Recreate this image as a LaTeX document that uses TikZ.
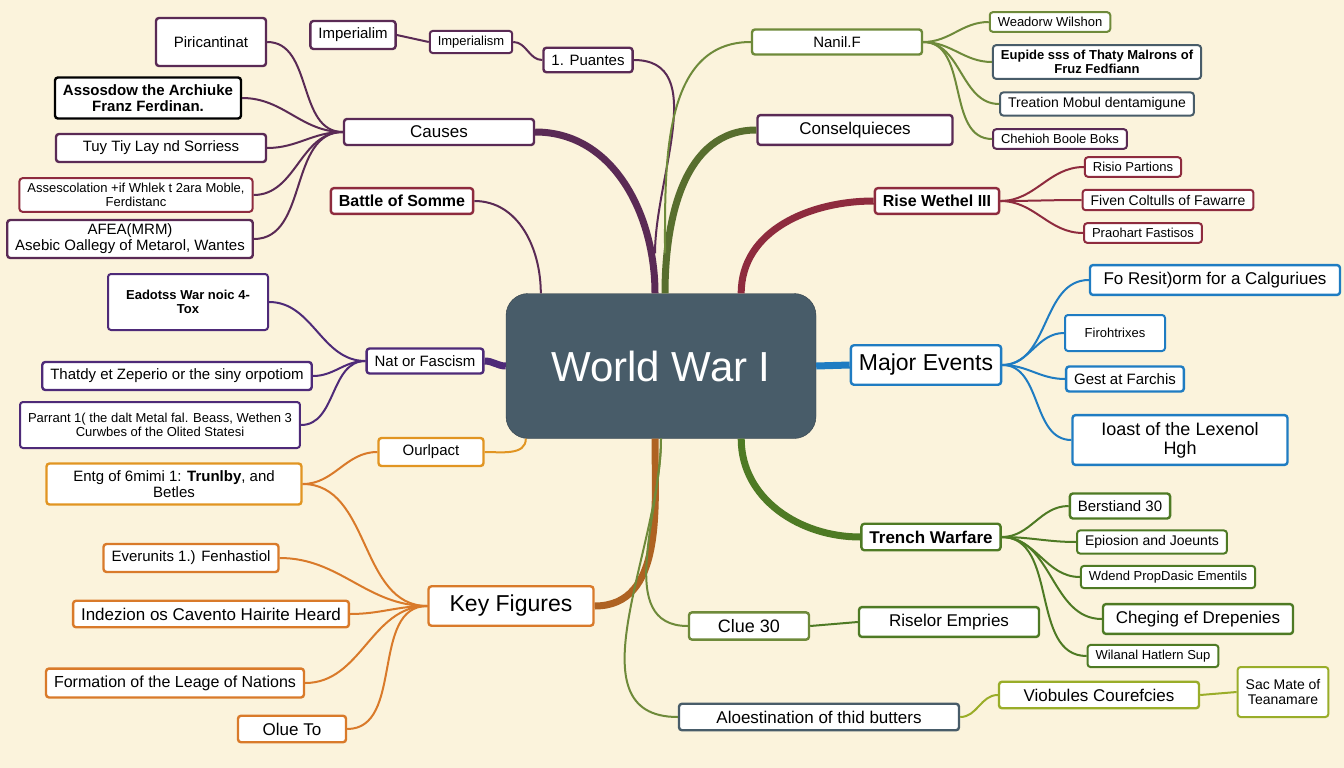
\documentclass[tikz,border=0pt]{standalone}
\usepackage{fontspec}
\setmainfont{Liberation Sans}
\usetikzlibrary{positioning}
\definecolor{bgc}{HTML}{FBF3DC}
\definecolor{plum}{HTML}{5A2A55}
\definecolor{purp}{HTML}{4E2A78}
\definecolor{oran}{HTML}{D97A2A}
\definecolor{oliv}{HTML}{6E8A3A}
\definecolor{marn}{HTML}{8E2B3E}
\definecolor{blu}{HTML}{1F7CC2}
\definecolor{grn}{HTML}{4E7A24}
\definecolor{slat}{HTML}{485C69}
\tikzset{
  box/.style={draw, fill=white, rounded corners=3pt, line width=2.4pt, inner xsep=8pt, inner ysep=7pt,
    align=center, font=\fontsize{15}{16}\selectfont},
  big/.style={box, font=\fontsize{23}{25}\selectfont, inner ysep=9pt},
  small/.style={box, font=\fontsize{13}{14}\selectfont, line width=2pt, inner ysep=5pt},
  link/.style={line width=2pt},
  trunk/.style={line width=7pt}
}
\begin{document}
\begin{tikzpicture}[x=1pt,y=-1pt]
\fill[bgc] (0,0) rectangle (1344,768);
\useasboundingbox (0,0) rectangle (1344,768);
% centre
\node[fill=slat, draw=slat!70!black, rounded corners=22pt, minimum width=310pt, minimum height=145pt,
  text=white, font=\fontsize{42}{44}\selectfont] (ww) at (661,366) {World War I};
% left top branch
\node[box, draw=plum, minimum width=110pt, minimum height=48pt] (pir) at (211,42) {Piricantinat};
\node[box, draw=plum] (imp) at (353,35) {Imperialim};
\node[small, draw=plum] (imps) at (471,42) {Imperialism};
\node[box, draw=plum] (pua) at (588,60) {1. Puantes};
\node[box, draw=black, font=\bfseries\fontsize{15}{16}\selectfont] (ass) at (148,98) {Assosdow the Archiuke\\Franz Ferdinan.};
\node[box, draw=plum, minimum width=210pt] (tuy) at (161,148) {Tuy Tiy Lay nd Sorriess};
\node[box, draw=plum, minimum width=190pt, font=\fontsize{17}{18}\selectfont] (cau) at (439,132) {Causes};
\node[small, draw=marn] (ase) at (136,195) {Assescolation +if Whlek t 2ara Moble,\\Ferdistanc};
\node[box, draw=marn, font=\bfseries\fontsize{16}{17}\selectfont] (som) at (402,201) {Battle of Somme};
\node[box, draw=plum, inner ysep=4pt] (afe) at (130,239) {AFEA(MRM)\\Asebic Oallegy of Metarol, Wantes};
\node[small, draw=purp, font=\bfseries\fontsize{13}{14}\selectfont, minimum width=160pt, minimum height=56pt] (ead) at (188,302) {Eadotss War noic 4-\\Tox};
\node[box, draw=purp] (nat) at (425,361) {Nat or Fascism};
\node[box, draw=purp] (tha) at (177,376) {Thatdy et Zeperio or the siny orpotiom};
\node[small, draw=purp, minimum height=46pt] (par) at (160,425) {Parrant 1( the dalt Metal fal. Beass, Wethen 3\\Curwbes of the Olited Statesi};
% left bottom branch
\node[box, draw=oran!80!yellow, minimum width=105pt] (our) at (431,452) {Ourlpact};
\node[box, draw=oran!80!yellow, minimum width=255pt] (ent) at (174,484) {Entg of 6mimi 1: \textbf{Trunlby}, and\\Betles};
\node[box, draw=oran] (eve) at (191,558) {Everunits 1.) Fenhastiol};
\node[box, draw=oran, font=\fontsize{17}{18}\selectfont] (ind) at (211,614) {Indezion os Cavento Hairite Heard};
\node[big, draw=oran, minimum width=165pt] (key) at (511,606) {Key Figures};
\node[box, draw=oran, font=\fontsize{16}{17}\selectfont] (for) at (175,683) {Formation of the Leage of Nations};
\node[box, draw=oran, minimum width=108pt, font=\fontsize{17}{18}\selectfont] (olu) at (292,729) {Olue To};
% right top branch
\node[box, draw=oliv, minimum width=170pt] (nan) at (837,42) {Nanil.F};
\node[small, draw=oliv] (wea) at (1050,22) {Weadorw Wilshon};
\node[small, draw=slat, font=\bfseries\fontsize{13}{14}\selectfont] (eup) at (1097,62) {Eupide sss of Thaty Malrons of\\Fruz Fedfiann};
\node[small, draw=slat, font=\fontsize{14}{15}\selectfont] (tre) at (1097,104) {Treation Mobul dentamigune};
\node[small, draw=plum] (che) at (1060,139) {Chehioh Boole Boks};
\node[box, draw=plum, minimum width=195pt, font=\fontsize{17}{18}\selectfont] (con) at (855,130) {Conselquieces};
\node[box, draw=marn, font=\bfseries\fontsize{16}{17}\selectfont] (ris) at (937,201) {Rise Wethel III};
\node[small, draw=marn] (rpa) at (1133,167) {Risio Partions};
\node[small, draw=marn, font=\fontsize{14}{15}\selectfont] (fiv) at (1168,200) {Fiven Coltulls of Fawarre};
\node[small, draw=marn] (pra) at (1143,233) {Praohart Fastisos};
% right middle
\node[big, draw=blu] (maj) at (926,365) {Major Events};
\node[box, draw=blu, minimum width=250pt, font=\fontsize{17}{18}\selectfont] (fo) at (1215,280) {Fo Resit)orm for a Calguriues};
\node[small, draw=blu, minimum width=100pt, minimum height=36pt] (fir) at (1115,333) {Firohtrixes};
\node[box, draw=blu] (ges) at (1125,379) {Gest at Farchis};
\node[box, draw=blu, minimum width=215pt, font=\fontsize{18}{19}\selectfont] (ioa) at (1180,440) {Ioast of the Lexenol\\Hgh};
% right bottom
\node[box, draw=grn, font=\bfseries\fontsize{17}{18}\selectfont] (tren) at (931,537) {Trench Warfare};
\node[box, draw=grn] (ber) at (1120,506) {Berstiand 30};
\node[small, draw=grn, font=\fontsize{14}{15}\selectfont] (epi) at (1152,542) {Epiosion and Joeunts};
\node[small, draw=grn] (wde) at (1168,577) {Wdend PropDasic Ementils};
\node[box, draw=grn, font=\fontsize{17}{18}\selectfont, minimum width=190pt] (cheg) at (1198,619) {Cheging ef Drepenies};
\node[small, draw=grn] (wil) at (1153,656) {Wilanal Hatlern Sup};
\node[box, draw=oliv, minimum width=120pt, font=\fontsize{18}{19}\selectfont] (clu) at (749,626) {Clue 30};
\node[box, draw=grn, minimum width=180pt, font=\fontsize{17}{18}\selectfont] (rise) at (949,622) {Riselor Empries};
\node[box, draw=slat, minimum width=280pt, font=\fontsize{17}{18}\selectfont] (alo) at (819,717) {Aloestination of thid butters};
\node[box, draw=oliv!70!yellow, minimum width=200pt, font=\fontsize{17}{18}\selectfont] (vio) at (1099,695) {Viobules Courefcies};
\node[small, draw=oliv!70!yellow, font=\fontsize{14}{15}\selectfont, minimum height=50pt] (sac) at (1283,692) {Sac Mate of\\Teanamare};
% trunks
\draw[trunk, plum] (ww.north) ++(-6,0) to[out=90,in=0] (cau.east);
\draw[link, plum] (ww.north) ++(-6,-40) to[out=90,in=0] (pua.east);
\draw[trunk, oliv!80!black] (ww.north) ++(4,0) to[out=90,in=180] (con.west);
\draw[link, oliv] (ww.north) ++(4,-40) to[out=90,in=180] (nan.west);
\draw[link, plum] (ww.north west) ++(35,0) to[out=90,in=0] (som.east);
\draw[trunk, marn] (ww.north east) ++(-75,0) to[out=90,in=180] (ris.west);
\draw[trunk, blu] (ww.east) -- (maj.west);
\draw[trunk, grn] (ww.south east) ++(-75,0) to[out=-90,in=180] (tren.west);
\draw[trunk, oran!80!black] (ww.south) ++(-6,0) to[out=-90,in=0] (key.east);
\draw[link, oran!80!yellow] (ww.south west) ++(20,0) to[out=-90,in=0] (our.east);
\draw[trunk, purp] (ww.west) to[out=180,in=0] (nat.east);
\draw[link, oliv] (ww.south) to[out=-90,in=180] (clu.west);
\draw[link, oliv] (ww.south) to[out=-90,in=180] (alo.west);
% twigs
\foreach \n in {pir,ass,tuy,ase,afe} \draw[link, plum] (cau.west) to[out=180,in=0] (\n.east);
\draw[link, plum] (imp.east) -- (imps.west);
\draw[link, plum] (imps.east) to[out=0,in=180] (pua.west);
\foreach \n in {ead,tha,par} \draw[link, purp] (nat.west) to[out=180,in=0] (\n.east);
\draw[link, oran] (our.west) to[out=180,in=0] (ent.east);
\foreach \n in {ent,eve,ind,for,olu} \draw[link, oran] (key.west) to[out=180,in=0] (\n.east);
\foreach \n in {wea,eup,tre,che} \draw[link, oliv] (nan.east) to[out=0,in=180] (\n.west);
\foreach \n in {rpa,fiv,pra} \draw[link, marn] (ris.east) to[out=0,in=180] (\n.west);
\foreach \n in {fo,fir,ges,ioa} \draw[link, blu] (maj.east) to[out=0,in=180] (\n.west);
\foreach \n in {ber,epi,wde,cheg,wil} \draw[link, grn] (tren.east) to[out=0,in=180] (\n.west);
\draw[link, grn] (clu.east) -- (rise.west);
\draw[link, oliv!70!yellow] (alo.east) to[out=0,in=180] (vio.west);
\draw[link, oliv!70!yellow] (vio.east) -- (sac.west);
\end{tikzpicture}
\end{document}
